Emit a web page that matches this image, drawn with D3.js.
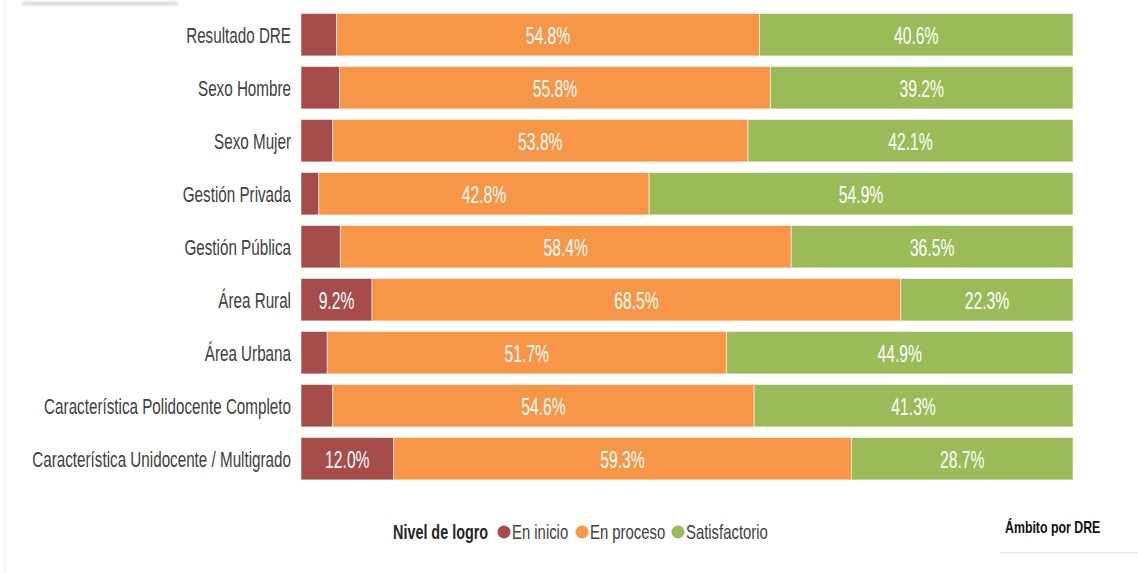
<!DOCTYPE html>
<html>
<head>
<meta charset="utf-8">
<script src="https://cdn.jsdelivr.net/npm/d3@7/dist/d3.min.js"></script>
<style>
  html, body { margin: 0; padding: 0; background: #ffffff; }
  svg { display: block; }
  text { font-family: "Liberation Sans Narrow", "Arial Narrow", "Liberation Sans", sans-serif; }
</style>
</head>
<body>
<svg id="chart" width="1138" height="573"></svg>
<script>
// Nivel de logro por característica (porcentajes)
const categories = [
  "Resultado DRE",
  "Sexo Hombre",
  "Sexo Mujer",
  "Gestión Privada",
  "Gestión Pública",
  "Área Rural",
  "Área Urbana",
  "Característica Polidocente Completo",
  "Característica Unidocente / Multigrado"
];
const enInicio      = [4.6, 5.0, 4.1, 2.3, 5.1, 9.2, 3.4, 4.1, 12.0];
const enProceso     = [54.8, 55.8, 53.8, 42.8, 58.4, 68.5, 51.7, 54.6, 59.3];
const satisfactorio = [40.6, 39.2, 42.1, 54.9, 36.5, 22.3, 44.9, 41.3, 28.7];

const seriesNames  = ["En inicio", "En proceso", "Satisfactorio"];
const seriesColors = ["#a64d4c", "#f79646", "#9bbb59"];
const legendTitle  = "Nivel de logro";
const footerLabel  = "Ámbito por DRE";
// Etiquetas de "En inicio" sólo para segmentos anchos
const minInicioLabel = 8;

const rows = categories.map((c, i) => ({
  cat: c,
  "En inicio": enInicio[i],
  "En proceso": enProceso[i],
  "Satisfactorio": satisfactorio[i]
}));

const svg = d3.select("#chart");

// tarjeta de fondo (borde suave)
svg.append("rect")
  .attr("x", 5).attr("y", -20).attr("width", 1160).attr("height", 610)
  .attr("rx", 20)
  .attr("fill", "#ffffff").attr("stroke", "#fbeeee").attr("stroke-width", 2);
svg.append("rect")
  .attr("x", 1000).attr("y", 552).attr("width", 138).attr("height", 2)
  .attr("fill", "#efefef");
// sombra del encabezado superior
const defs = svg.append("defs");
const f = defs.append("filter").attr("id", "soft").attr("x", "-10%").attr("y", "-200%").attr("width", "120%").attr("height", "500%");
f.append("feGaussianBlur").attr("stdDeviation", 1.6);
svg.append("rect")
  .attr("x", 22).attr("y", 2).attr("width", 156).attr("height", 3).attr("rx", 1.5)
  .attr("fill", "#cfcfcf").attr("filter", "url(#soft)");

const x = d3.scaleLinear().domain([0, 100]).range([301, 1073]);
const y = d3.scaleBand().domain(categories).range([8.2, 485.2])
  .paddingInner(0.2).paddingOuter(0.1);
const color = d3.scaleOrdinal().domain(seriesNames).range(seriesColors);

const stack = d3.stack().keys(seriesNames);
const layers = stack(rows);

const g = svg.append("g");
const layerG = g.selectAll("g.layer").data(layers).join("g")
  .attr("class", "layer")
  .attr("fill", d => color(d.key));

layerG.selectAll("rect").data(d => d.map(p => ({ p, key: d.key }))).join("rect")
  .attr("x", d => x(d.p[0]))
  .attr("y", d => y(d.p.data.cat))
  .attr("width", d => x(d.p[1]) - x(d.p[0]))
  .attr("height", y.bandwidth())
  .attr("stroke", "#ffffff").attr("stroke-opacity", 0.55).attr("stroke-width", 1);

// etiquetas de valor
const labels = [];
layers.forEach(layer => {
  layer.forEach(p => {
    const v = p.data[layer.key];
    if (layer.key === "En inicio" && v < minInicioLabel) return;
    labels.push({ cx: (x(p[0]) + x(p[1])) / 2, cy: y(p.data.cat) + y.bandwidth() / 2, v });
  });
});
g.selectAll("text.val").data(labels).join("text")
  .attr("class", "val")
  .attr("transform", d => `translate(${d.cx},${d.cy + 1}) scale(0.98,1.5)`)
  .attr("text-anchor", "middle")
  .attr("dy", "0.36em")
  .attr("fill", "#ffffff")
  .attr("font-size", 16)
  .text(d => d3.format(".1f")(d.v) + "%");

// eje de categorías
const yAxis = d3.axisLeft(y).tickSize(0).tickPadding(0);
const axisG = g.append("g").attr("transform", "translate(291,0)").call(yAxis);
axisG.select(".domain").remove();
axisG.selectAll(".tick text")
  .attr("x", 0)
  .attr("y", 0)
  .attr("dy", "0.36em")
  .attr("transform", "scale(0.87,1.25)")
  .attr("fill", "#404040")
  .attr("font-size", 17.5);
axisG.selectAll(".tick").each(function (d) {
  const cy = y(d) + y.bandwidth() / 2;
  d3.select(this).attr("transform", `translate(0,${cy + 0.5})`);
});

// leyenda
const legend = svg.append("g").attr("transform", "translate(0,532)");
legend.append("text")
  .attr("transform", "translate(393,0) scale(0.9,1.25)")
  .attr("dy", "0.35em")
  .attr("font-weight", "bold")
  .attr("fill", "#262626")
  .attr("font-size", 16)
  .text(legendTitle);
const legendCircleX = [504, 582, 678];
seriesNames.forEach((s, i) => {
  legend.append("circle").attr("r", 6.5).attr("cx", legendCircleX[i]).attr("cy", 0).attr("fill", color(s));
  legend.append("text")
    .attr("transform", `translate(${legendCircleX[i] + 8},0) scale(0.93,1.25)`)
    .attr("dy", "0.35em")
    .attr("fill", "#404040")
    .attr("font-size", 16)
    .text(s);
});

// pie
svg.append("text")
  .attr("transform", "translate(1005,527) scale(0.95,1.3)")
  .attr("dy", "0.35em")
  .attr("font-weight", "bold")
  .attr("fill", "#111111")
  .attr("font-size", 13)
  .text(footerLabel);
</script>
</body>
</html>
